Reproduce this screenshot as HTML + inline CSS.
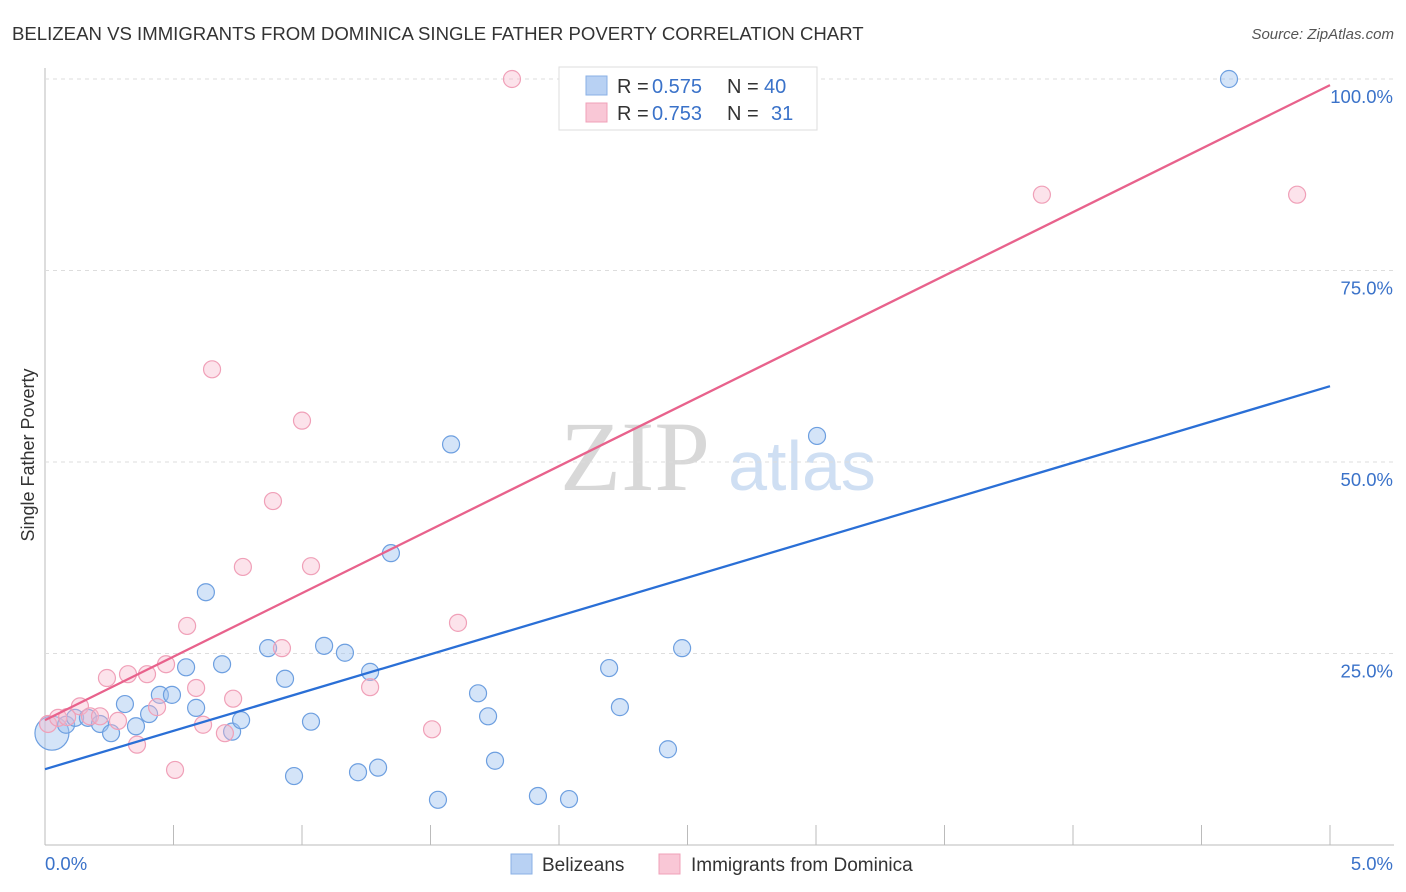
<!DOCTYPE html>
<html><head><meta charset="utf-8"><style>
body{margin:0;background:#fff;font-family:"Liberation Sans",sans-serif;}
#wrap{position:relative;width:1406px;height:892px;overflow:hidden}
</style></head><body>
<div id="wrap">
<svg id="svg" width="1406" height="892" xmlns="http://www.w3.org/2000/svg">
<text x="12" y="40" font-size="18.6" fill="#333">BELIZEAN VS IMMIGRANTS FROM DOMINICA SINGLE FATHER POVERTY CORRELATION CHART</text>
<text x="1394" y="39" font-size="15" fill="#555" font-style="italic" text-anchor="end">Source: ZipAtlas.com</text>
<text x="34" y="455" font-size="18" fill="#333" text-anchor="middle" transform="rotate(-90 34 455)">Single Father Poverty</text>
<text x="635" y="490" font-size="100" fill="#d8d8d8" font-family="Liberation Serif" text-anchor="middle">ZIP</text>
<text x="802" y="490" font-size="70" fill="#cfdff3" text-anchor="middle">atlas</text>
<g id="grid"></g><g id="pts"></g><g id="lines"></g>
<g>
<rect x="559" y="67" width="258" height="63" fill="#fff" stroke="#ddd"/>
<rect x="586" y="76" width="21" height="19" fill="#b8d1f3" stroke="#8ab0e6"/>
<rect x="586" y="103" width="21" height="19" fill="#f9c7d6" stroke="#f0a0b8"/>
<text x="617" y="93" font-size="20" fill="#333">R =</text>
<text x="652" y="93" font-size="20" fill="#3a72c9">0.575</text>
<text x="727" y="93" font-size="20" fill="#333">N =</text>
<text x="764" y="93" font-size="20" fill="#3a72c9">40</text>
<text x="617" y="120" font-size="20" fill="#333">R =</text>
<text x="652" y="120" font-size="20" fill="#3a72c9">0.753</text>
<text x="727" y="120" font-size="20" fill="#333">N =</text>
<text x="771" y="120" font-size="20" fill="#3a72c9">31</text>
</g>
<g>
<rect x="511" y="854" width="21" height="20" fill="#b8d1f3" stroke="#8ab0e6"/>
<text x="542" y="871" font-size="19" fill="#333">Belizeans</text>
<rect x="659" y="854" width="21" height="20" fill="#f9c7d6" stroke="#f0a0b8"/>
<text x="691" y="871" font-size="19" fill="#333">Immigrants from Dominica</text>
</g>
</svg></div>
<script>
const xTicks=[0,0.5,1,1.5,2,2.5,3,3.5,4,4.5,5];
const yTicks=[25,50,75,100];
const yTickLabels=["25.0%","50.0%","75.0%","100.0%"];
const blueX=[0.027,0.082,0.117,0.167,0.214,0.257,0.311,0.354,0.405,0.447,0.494,0.549,0.588,0.626,0.689,0.728,0.763,0.868,0.934,0.969,1.035,1.086,1.167,1.218,1.265,1.296,1.346,1.529,1.580,1.685,1.724,1.751,1.918,2.039,2.195,2.237,2.424,2.479,3.004,4.607];
const blueY=[14.6,15.7,16.6,16.6,15.8,14.6,18.4,15.5,17.1,19.6,19.6,23.2,17.9,33.0,23.6,14.8,16.3,25.7,21.7,9.0,16.1,26.0,25.1,9.5,22.6,10.1,38.1,5.9,52.3,19.8,16.8,11.0,6.4,6.0,23.1,18.0,12.5,25.7,53.4,100];
const pinkX=[0.012,0.051,0.086,0.136,0.175,0.214,0.241,0.284,0.323,0.358,0.397,0.436,0.471,0.506,0.553,0.588,0.615,0.650,0.700,0.732,0.770,0.887,0.922,1.000,1.035,1.265,1.506,1.607,1.817,3.879,4.872];
const pinkY=[15.8,16.6,16.7,18.1,16.8,16.8,21.8,16.2,22.3,13.1,22.3,18.0,23.6,9.8,28.6,20.5,15.7,62.1,14.6,19.1,36.3,44.9,25.7,55.4,36.4,20.6,15.1,29.0,100,84.9,84.9];
const blueTrend=[9.9,59.9];
const pinkTrend=[16.3,99.2];
const X=v=>45+v/5*1285, Y=v=>845-v/100*766;
const NS="http://www.w3.org/2000/svg";
function mk(t,a,p){const e=document.createElementNS(NS,t);for(const k in a)e.setAttribute(k,a[k]);p.appendChild(e);return e;}
const g=document.getElementById('grid');
let ax=mk('line',{x1:45,y1:68,x2:45,y2:845,stroke:'#bbb'},g);

let bx=mk('line',{x1:45,y1:845,x2:1394,y2:845,stroke:'#bbb'},g);

yTicks.forEach((t,i)=>{
 let l=mk('line',{x1:45,y1:Y(t),x2:1394,y2:Y(t),stroke:'#ddd','stroke-dasharray':'4,4'},g);
 
 let tx=mk('text',{x:1393,y:Y(t)+24,'font-size':18.5,fill:'#3a72c9','text-anchor':'end'},g);tx.textContent=yTickLabels[i];
 
});
xTicks.forEach((t,i)=>{if(i==0)return;
 let l=mk('line',{x1:X(t),y1:825,x2:X(t),y2:845,stroke:'#bbb'},g);
 
});
let t0=mk('text',{x:45,y:870,'font-size':18.5,fill:'#3a72c9'},g);t0.textContent='0.0%';

let t5=mk('text',{x:1393,y:870,'font-size':18.5,fill:'#3a72c9','text-anchor':'end'},g);t5.textContent='5.0%';

const P=document.getElementById('pts');
blueX.forEach((x,i)=>{let c=mk('circle',{cx:X(x),cy:Y(blueY[i]),r:i==0?17:8.5,fill:'rgba(160,195,240,0.45)',stroke:'#6d9fe0','stroke-width':1.2},P);
 });
pinkX.forEach((x,i)=>{let c=mk('circle',{cx:X(x),cy:Y(pinkY[i]),r:8.5,fill:'rgba(248,185,205,0.4)',stroke:'#f0a0b8','stroke-width':1.2},P);
 });
const L=document.getElementById('lines');
let bl=mk('line',{x1:X(0),y1:Y(blueTrend[0]),x2:X(5),y2:Y(blueTrend[1]),stroke:'#2a6fd6','stroke-width':2.3},L);

let pl=mk('line',{x1:X(0),y1:Y(pinkTrend[0]),x2:X(5),y2:Y(pinkTrend[1]),stroke:'#e8628c','stroke-width':2.3},L);

</script>
</body></html>
